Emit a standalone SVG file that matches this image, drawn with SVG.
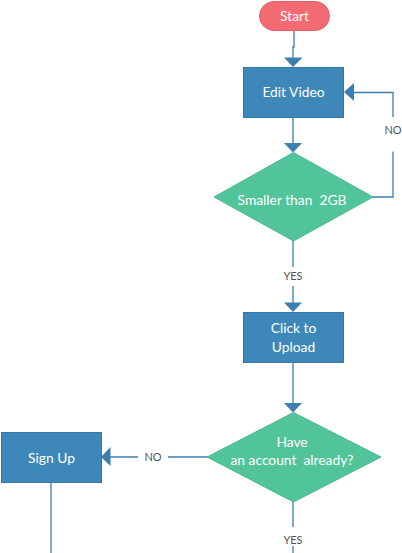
<svg xmlns="http://www.w3.org/2000/svg" width="402" height="553" viewBox="0 0 402 553">
<defs>
<style>
.proc{fill:#3d88b8;stroke:#3379a8;stroke-width:1}
.dec{fill:#52c49a;stroke:#4cb890;stroke-width:1}
.term{fill:#f26b73;stroke:#e85f68;stroke-width:1}
.nt{font-family:Lato,"Liberation Sans",sans-serif;font-size:13.8px;fill:#ffffff;text-anchor:middle}
.lbl{font-family:Lato,"Liberation Sans",sans-serif;font-size:11px;fill:#555555;text-anchor:middle}
.ln{fill:none;stroke:#3a7fb0;stroke-width:1.3}
.ah{fill:#3a7fb0}
</style>
</defs>
<g id="connectors">
<path class="ln" d="M294 31 V47 H293 V58"/>
<polygon class="ah" points="284,57.5 302.5,57.5 293,67"/>
<path class="ln" d="M293 117 V143"/>
<polygon class="ah" points="284,143 302,143 293,152.5"/>
<path class="ln" d="M373 197 H393 V151.5 M393 117 V92.5 H354"/>
<polygon class="ah" points="354,83 354,101 344,92"/>
<text class="lbl" x="393" y="134">NO</text>
<path class="ln" d="M293 241 V267 M293 286 V303"/>
<text class="lbl" x="293" y="280">YES</text>
<polygon class="ah" points="284,302.5 302,302.5 293,312"/>
<path class="ln" d="M293 362 V403"/>
<polygon class="ah" points="284,403 302,403 293,412.5"/>
<path class="ln" d="M207 457 H168 M138 457 H110"/>
<text class="lbl" x="153" y="461">NO</text>
<polygon class="ah" points="110.5,447 110.5,466 101,457"/>
<path class="ln" d="M51 482 V553"/>
<path class="ln" d="M293 502 V527 M293 546 V553"/>
<text class="lbl" x="293" y="544">YES</text>
</g>
<g id="start">
<rect class="term" x="259.5" y="1.5" width="70" height="29" rx="14.5"/>
<text class="nt" x="294.5" y="20.5">Start</text>
</g>
<g id="edit-video">
<rect class="proc" x="243.5" y="67.5" width="100" height="50"/>
<text class="nt" x="293.5" y="97">Edit Video</text>
</g>
<g id="smaller-than-2gb">
<polygon class="dec" points="293.5,152.5 373,197 293.5,241 214,197"/>
<text class="nt" x="292" y="205" xml:space="preserve">Smaller than  2GB</text>
</g>
<g id="click-to-upload">
<rect class="proc" x="243.5" y="312.5" width="100" height="50"/>
<text class="nt" x="293.5" y="333">Click to</text>
<text class="nt" x="293.5" y="352">Upload</text>
</g>
<g id="have-account">
<polygon class="dec" points="293.5,412.5 381,457 293.5,502 207,457"/>
<text class="nt" x="292" y="447">Have</text>
<text class="nt" x="292" y="465" xml:space="preserve">an account  already?</text>
</g>
<g id="sign-up">
<rect class="proc" x="1.5" y="432.5" width="100" height="50"/>
<text class="nt" x="51.5" y="463">Sign Up</text>
</g>
</svg>
